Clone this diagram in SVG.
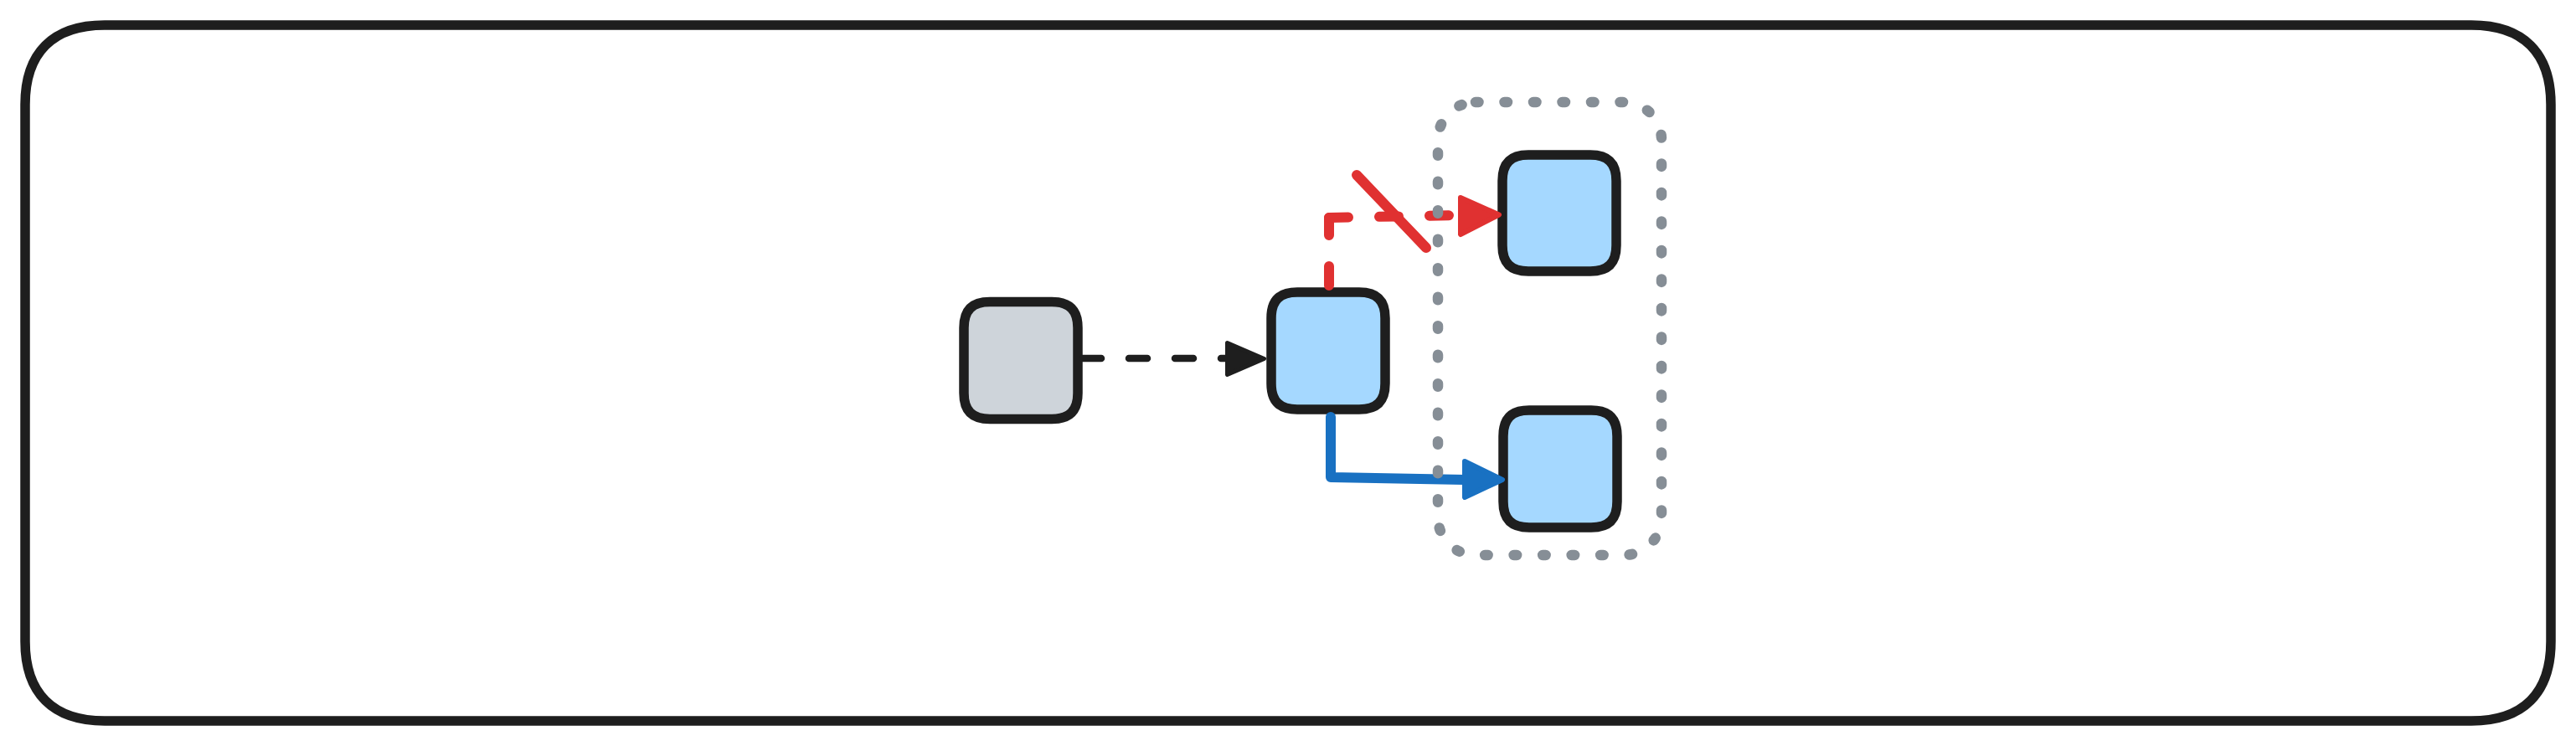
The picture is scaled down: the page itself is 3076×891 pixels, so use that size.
<svg xmlns="http://www.w3.org/2000/svg" width="3076" height="891" viewBox="0 0 3076 891">
  <style>
    .frame { fill: #ffffff; stroke: #1e1e1e; stroke-width: 11.5; }
    .node { stroke: #1e1e1e; stroke-width: 11.5; }
    .gray { fill: #ced4da; }
    .blue { fill: #a5d8ff; }
    .conn { fill: none; stroke-linecap: round; stroke-linejoin: round; }
    .head { stroke-linejoin: round; }
    .grp { fill: none; stroke: #868e96; stroke-width: 12.5; stroke-dasharray: 3.5 31; stroke-linecap: round; }
  </style>
  <path class="frame" d="M125 30 H2951 C3013 30 3046 63 3046 125 V766 C3046 828 3013 861 2951 861 H125 C63 861 30 828 30 766 V125 C30 63 63 30 125 30 Z"/>
  <g id="nodes">
    <g id="node-source"><path class="node gray" d="M1182 360.5 H1256 C1277 360.5 1287 370.5 1287 391.5 V469.5 C1287 490.5 1277 500.5 1256 500.5 H1182 C1161 500.5 1151 490.5 1151 469.5 V391.5 C1151 370.5 1161 360.5 1182 360.5 Z"/></g>
    <g id="node-middle"><path class="node blue" d="M1549 349 H1623 C1644 349 1654 359 1654 380 V458 C1654 479 1644 489 1623 489 H1549 C1528 489 1518 479 1518 458 V380 C1518 359 1528 349 1549 349 Z"/></g>
    <g id="node-top"><path class="node blue" d="M1825 185 H1899 C1920 185 1930 195 1930 216 V293 C1930 314 1920 324 1899 324 H1825 C1804 324 1794 314 1794 293 V216 C1794 195 1804 185 1825 185 Z"/></g>
    <g id="node-bottom"><path class="node blue" d="M1826 490 H1900 C1921 490 1931 500 1931 521 V599 C1931 620 1921 630 1900 630 H1826 C1805 630 1795 620 1795 599 V521 C1795 500 1805 490 1826 490 Z"/></g>
  </g>
  <g id="connectors">
    <g id="edge-source-middle">
      <path class="conn" d="M1293 428 L1466 428" stroke="#1e1e1e" stroke-width="8.5" stroke-dasharray="22 33"/>
      <polygon class="head" points="1465.5,409.5 1509.5,428.5 1465.5,447.5" fill="#1e1e1e" stroke="#1e1e1e" stroke-width="5"/>
    </g>
    <g id="edge-middle-top">
      <path class="conn" d="M1587 341 L1587 260" stroke="#e03131" stroke-width="12" stroke-dasharray="23 37"/>
      <path class="conn" d="M1587 260 L1744 257" stroke="#e03131" stroke-width="12" stroke-dasharray="23 37"/>
      <path class="conn" d="M1620 209 L1703 296" stroke="#e03131" stroke-width="12"/>
      <polygon class="head" points="1744,236 1790,256.5 1744,280" fill="#e03131" stroke="#e03131" stroke-width="6"/>
    </g>
    <g id="edge-middle-bottom">
      <path class="conn" d="M1589 498 L1589 570 L1749 573" stroke="#1971c2" stroke-width="12"/>
      <polygon class="head" points="1749,551 1794,573 1749,594" fill="#1971c2" stroke="#1971c2" stroke-width="6"/>
    </g>
  </g>
  <g id="group-targets">
    <rect class="grp" x="1717" y="122" width="267" height="541" rx="45" ry="45"/>
  </g>
</svg>
